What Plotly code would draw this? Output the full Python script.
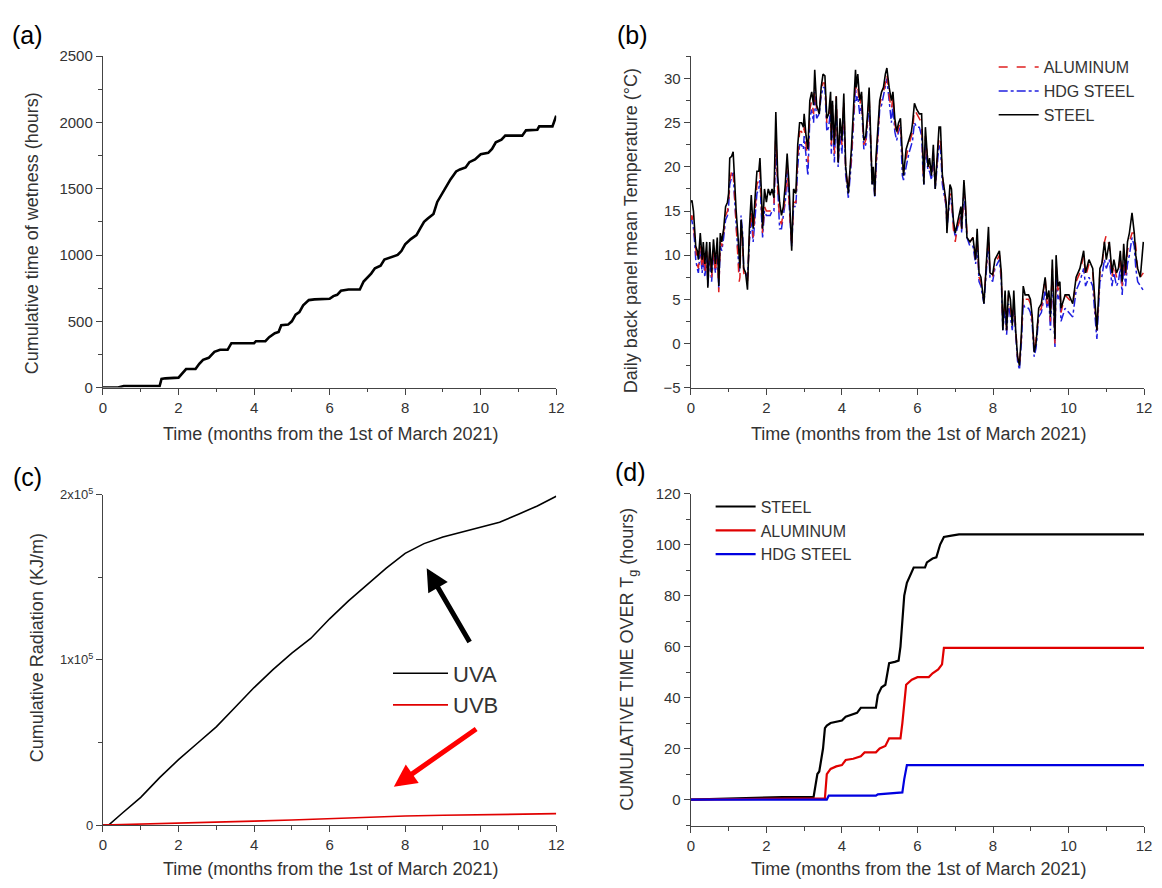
import plotly.graph_objects as go

# ---------------- (a) cumulative time of wetness ----------------
tow_t = [0, 0.4, 0.55, 1.5, 1.55, 1.65, 2.0, 2.1, 2.2, 2.45, 2.55, 2.65, 2.8, 2.95, 3.1, 3.3,
         3.4, 4.0, 4.05, 4.3, 4.4, 4.55, 4.65, 4.72, 4.9, 5.0, 5.1, 5.2, 5.3, 5.45, 5.6, 6.0,
         6.1, 6.2, 6.3, 6.5, 6.8, 6.9, 7.0, 7.1, 7.2, 7.35, 7.45, 7.7, 7.8, 7.9, 8.0, 8.15,
         8.3, 8.4, 8.5, 8.6, 8.75, 8.85, 8.95, 9.1, 9.2, 9.35, 9.45, 9.6, 9.7, 9.85, 10.0,
         10.2, 10.3, 10.4, 10.55, 10.65, 11.1, 11.2, 11.5, 11.55, 11.9, 12.0]
tow_h = [0, 0, 12, 12, 65, 70, 75, 110, 140, 140, 180, 210, 225, 270, 285, 285,
         335, 335, 350, 350, 380, 410, 420, 470, 475, 500, 550, 570, 620, 660, 665, 670,
         690, 700, 730, 740, 740, 800, 830, 860, 900, 920, 965, 990, 1000, 1030, 1080, 1120,
         1150, 1200, 1250, 1275, 1310, 1400, 1450, 1520, 1570, 1630, 1645, 1660, 1700, 1720, 1760,
         1770, 1800, 1850, 1870, 1900, 1900, 1940, 1945, 1970, 1970, 2050]

# ---------------- (b) daily back panel temperature ----------------
temp_t = [0.00, 0.03, 0.07, 0.10, 0.13, 0.17, 0.20, 0.25, 0.30, 0.33, 0.37, 0.42, 0.45, 0.50, 0.55,
          0.60, 0.65, 0.70, 0.74, 0.78, 0.82, 0.87, 0.92, 0.97, 1.00, 1.03, 1.08, 1.12, 1.15, 1.20,
          1.25, 1.28, 1.30, 1.33, 1.37, 1.40, 1.45, 1.50, 1.55, 1.60, 1.65, 1.70, 1.75, 1.80, 1.83,
          1.87, 1.90, 1.95, 2.00, 2.05, 2.10, 2.15, 2.20, 2.25, 2.30, 2.35, 2.40, 2.45, 2.50, 2.55,
          2.60, 2.67, 2.72, 2.78, 2.83, 2.88, 2.93, 2.98, 3.00, 3.05, 3.10, 3.15, 3.20, 3.25, 3.28,
          3.33, 3.40, 3.45, 3.50, 3.55, 3.60, 3.65, 3.70, 3.72, 3.75, 3.80, 3.85, 3.90, 3.95, 4.00,
          4.05, 4.10, 4.17, 4.25, 4.30, 4.36, 4.38, 4.42, 4.47, 4.52, 4.58, 4.63, 4.68, 4.72, 4.75,
          4.80, 4.83, 4.87, 4.90, 4.95, 5.00, 5.05, 5.10, 5.15, 5.19, 5.25, 5.31, 5.35, 5.40, 5.45,
          5.50, 5.55, 5.60, 5.63, 5.70, 5.77, 5.84, 5.87, 5.92, 5.98, 6.05, 6.11, 6.15, 6.17, 6.21,
          6.28, 6.32, 6.37, 6.42, 6.47, 6.57, 6.61, 6.66, 6.71, 6.76, 6.78, 6.86, 6.90, 6.95, 7.00,
          7.05, 7.15, 7.17, 7.23, 7.27, 7.31, 7.39, 7.47, 7.54, 7.58, 7.63, 7.68, 7.76, 7.81, 7.88,
          7.92, 7.99, 8.05, 8.17, 8.22, 8.26, 8.32, 8.36, 8.41, 8.46, 8.51, 8.55, 8.60, 8.65, 8.70,
          8.75, 8.80, 8.85, 8.94, 8.99, 9.04, 9.09, 9.14, 9.21, 9.28, 9.38, 9.43, 9.48, 9.52, 9.57,
          9.60, 9.64, 9.67, 9.72, 9.77, 9.80, 9.91, 10.01, 10.11, 10.20, 10.30, 10.40, 10.45, 10.54, 10.64,
          10.72, 10.75, 10.83, 10.88, 10.95, 11.00, 11.08, 11.15, 11.20, 11.27, 11.32, 11.37, 11.42, 11.46, 11.51,
          11.56, 11.61, 11.68, 11.74, 11.78, 11.83, 11.90, 11.98]
temp_steel = [16.0, 16.2, 15.0, 13.0, 11.0, 10.5, 9.5, 12.5, 9.5, 11.5, 9.0, 11.5, 6.3, 11.5, 8.0,
              11.8, 9.0, 12.0, 6.5, 12.5, 11.5, 13.0, 15.5, 16.0, 17.0, 21.0, 21.2, 21.7, 19.0, 15.0,
              12.0, 9.0, 8.5, 14.0, 12.0, 8.5, 8.0, 6.1, 13.0, 16.8, 13.0, 16.5, 19.5, 19.5, 21.0,
              17.0, 13.0, 17.5, 16.0, 17.5, 16.8, 17.5, 16.5, 26.2, 19.0, 16.0, 14.5, 15.5, 18.0, 21.5,
              18.0, 10.5, 17.5, 17.0, 22.5, 25.0, 25.0, 24.5, 26.0, 23.5, 22.0, 27.5, 28.5, 27.0, 31.0,
              27.0, 26.0, 29.0, 30.5, 30.3, 25.5, 26.0, 28.5, 23.0, 27.5, 22.5, 28.0, 20.5, 25.5, 23.0,
              28.3, 20.0, 17.0, 22.0, 26.0, 31.0, 29.0, 30.5, 27.5, 28.5, 23.0, 23.5, 26.0, 29.0, 25.0,
              18.0, 20.0, 16.7, 21.0, 25.0, 27.5, 28.5, 29.0, 30.5, 31.2, 29.0, 27.5, 28.5, 25.5, 24.0,
              25.0, 25.5, 21.0, 19.0, 22.0, 23.0, 24.0, 25.0, 27.2, 26.5, 26.0, 26.0, 20.0, 18.0, 24.5,
              20.0, 21.0, 19.0, 22.5, 17.5, 24.5, 24.5, 19.0, 17.5, 16.0, 12.5, 18.0, 17.5, 14.0, 12.5,
              13.5, 15.5, 13.0, 18.5, 16.0, 12.0, 11.5, 12.0, 9.5, 13.0, 8.0, 7.5, 4.5, 8.5, 13.2,
              8.0, 7.8, 9.5, 10.5, 8.0, 1.5, 6.0, 1.5, 6.0, 5.0, 2.0, 6.0, 1.5, -1.5, -2.5,
              1.0, 6.5, 5.5, 5.5, 5.0, 3.0, -1.0, 0.0, 4.0, 4.5, 7.5, 5.0, 6.0, 3.0, 9.5,
              5.5, 0.5, 10.0, 6.5, 7.0, 4.0, 5.5, 5.5, 4.5, 7.5, 8.5, 10.5, 8.0, 9.5, 8.5,
              3.0, 1.5, 8.5, 9.0, 11.5, 9.5, 11.5, 8.0, 9.5, 8.0, 8.5, 10.5, 7.0, 11.3, 8.0,
              11.5, 12.5, 14.8, 12.5, 10.0, 8.5, 7.5, 11.5]
temp_al = [14.0, 14.5, 13.5, 12.0, 10.0, 9.0, 8.5, 11.0, 8.5, 10.5, 8.0, 10.5, 7.0, 10.5, 7.5,
           10.5, 8.0, 10.5, 5.8, 11.5, 11.0, 12.5, 14.5, 15.0, 16.0, 18.5, 19.5, 19.8, 17.5, 13.5,
           9.0, 7.0, 7.5, 13.0, 11.0, 8.0, 7.5, 7.0, 12.0, 15.0, 12.0, 15.0, 18.0, 18.5, 19.5,
           15.5, 12.5, 15.5, 15.0, 15.0, 15.0, 15.5, 15.5, 24.0, 17.5, 14.0, 13.5, 15.0, 16.5, 20.0,
           16.5, 11.0, 16.0, 16.0, 21.0, 24.0, 24.0, 23.5, 24.5, 22.0, 20.5, 26.5, 27.5, 26.0, 29.5,
           26.5, 26.5, 28.5, 29.5, 29.5, 25.0, 25.5, 27.5, 22.5, 27.0, 21.5, 28.0, 20.5, 25.0, 22.5,
           27.5, 19.5, 17.5, 21.0, 25.5, 30.0, 28.5, 29.0, 27.0, 28.0, 22.5, 23.0, 25.5, 28.0, 24.5,
           18.5, 19.5, 17.0, 20.0, 24.0, 27.0, 28.0, 28.5, 29.5, 30.5, 28.0, 26.5, 28.0, 25.0, 23.5,
           24.5, 25.0, 20.5, 19.5, 21.0, 22.5, 23.5, 24.0, 26.5, 26.0, 25.5, 25.0, 19.5, 18.5, 23.5,
           20.5, 20.0, 19.5, 21.5, 18.0, 23.5, 23.0, 19.0, 17.0, 15.5, 13.5, 17.0, 16.5, 13.0, 11.5,
           13.0, 14.5, 13.0, 17.0, 15.5, 12.5, 11.5, 12.0, 9.5, 12.0, 7.5, 7.0, 5.0, 8.0, 12.0,
           8.0, 7.5, 9.0, 10.0, 7.5, 2.0, 5.0, 1.5, 5.5, 4.0, 2.5, 5.0, 1.5, -1.5, -2.5,
           0.5, 5.5, 5.0, 5.0, 4.5, 2.5, -0.5, 0.5, 3.5, 4.0, 7.5, 4.5, 5.5, 2.5, 8.5,
           5.0, 0.0, 9.0, 6.0, 6.5, 3.5, 5.5, 5.0, 4.5, 7.0, 8.0, 10.0, 7.5, 9.0, 8.0,
           3.0, 1.5, 8.0, 8.5, 11.5, 12.3, 11.0, 7.5, 9.0, 7.5, 8.0, 10.0, 6.5, 10.5, 7.5,
           10.5, 11.5, 12.5, 12.5, 11.0, 8.0, 7.5, 8.0]
temp_hdg = [14.5, 14.0, 13.0, 11.5, 9.5, 8.5, 8.0, 10.5, 8.0, 10.0, 7.5, 10.0, 6.5, 10.0, 7.0,
            10.0, 8.0, 10.5, 6.2, 11.0, 10.5, 12.0, 14.0, 14.5, 15.5, 18.0, 19.0, 19.5, 17.0, 14.0,
            10.0, 8.0, 9.0, 14.5, 12.5, 8.5, 8.0, 7.5, 11.5, 14.0, 11.5, 14.0, 17.0, 17.5, 18.5,
            14.5, 12.0, 15.0, 14.5, 14.5, 14.5, 15.0, 15.0, 22.5, 17.0, 13.0, 13.0, 14.5, 16.0, 19.5,
            16.0, 11.0, 15.5, 15.5, 20.0, 22.5, 22.5, 22.0, 23.5, 21.0, 19.0, 25.5, 26.5, 25.0, 28.5,
            25.5, 26.0, 28.0, 29.0, 29.0, 24.0, 24.5, 26.5, 21.5, 26.0, 20.5, 27.0, 20.0, 24.0, 21.5,
            26.5, 19.0, 16.5, 20.5, 24.5, 29.0, 27.5, 28.0, 26.0, 27.0, 22.0, 22.5, 25.0, 27.5, 23.5,
            18.0, 19.0, 16.5, 19.5, 23.0, 26.5, 27.0, 28.0, 29.0, 30.0, 27.5, 25.0, 27.0, 24.0, 23.0,
            24.0, 24.5, 19.0, 18.5, 20.0, 21.5, 22.5, 23.0, 25.0, 24.5, 24.5, 23.5, 19.0, 18.0, 22.5,
            19.5, 19.5, 18.5, 21.0, 17.5, 22.5, 22.0, 18.0, 16.5, 15.5, 13.0, 16.5, 16.0, 13.5, 12.0,
            13.0, 14.5, 12.5, 17.5, 15.0, 12.0, 11.0, 11.0, 9.0, 11.5, 7.0, 6.5, 4.5, 7.5, 11.5,
            7.5, 7.0, 8.5, 9.5, 7.0, 1.5, 4.0, 1.0, 4.5, 3.0, 1.5, 4.0, 0.5, -2.0, -3.0,
            0.0, 4.5, 4.0, 4.0, 3.5, 2.0, -1.5, -0.5, 3.0, 3.5, 6.0, 4.0, 5.0, 1.5, 7.5,
            4.0, -0.5, 8.0, 5.0, 5.5, 2.5, 4.0, 3.5, 3.0, 6.0, 7.0, 8.5, 6.5, 7.5, 6.5,
            2.0, 0.5, 7.0, 7.5, 9.5, 8.5, 9.5, 6.5, 8.0, 6.5, 7.0, 8.5, 5.5, 9.0, 6.5,
            9.0, 10.0, 12.0, 11.0, 8.5, 7.0, 6.5, 6.0]

# ---------------- (c) cumulative radiation ----------------
uva_t = [0, 0.15, 0.5, 1.0, 1.5, 2.0, 2.5, 3.0, 3.5, 4.0, 4.5, 5.0, 5.5, 6.0, 6.5, 7.0, 7.5,
         8.0, 8.5, 9.0, 9.5, 10.0, 10.5, 11.0, 11.5, 12.0]
uva = [0, 0, 7000, 16800, 28700, 39600, 49500, 59400, 71300, 83200, 94000, 104000, 112900,
       124800, 135600, 145500, 155400, 164400, 170300, 174300, 177200, 180200, 183200, 188100,
       193100, 199000]
uvb_t = [0, 1, 2, 3, 4, 5, 6, 7, 8, 9, 10, 11, 12]
uvb = [0, 500, 1000, 1700, 2400, 3100, 3900, 4800, 5500, 5900, 6200, 6500, 6900]

# ---------------- (d) cumulative time over Tg ----------------
tg_steel_t = [0, 2.42, 3.25, 3.3, 3.35, 3.4, 3.45, 3.5, 3.55, 3.6, 3.7, 3.9, 4.0, 4.1, 4.2, 4.4,
              4.5, 4.9, 4.95, 5.05, 5.15, 5.25, 5.4, 5.5, 5.55, 5.6, 5.65, 5.72, 5.8, 5.9, 6.2,
              6.25, 6.4, 6.5, 6.6, 6.7, 6.9, 7.1, 12.0]
tg_steel = [0, 1, 1, 5, 10, 11, 15, 20, 28, 29, 30, 30.5, 31, 32.5, 33, 34,
            36, 36, 41, 44, 45, 53.5, 54, 54.5, 60, 70, 80, 85, 88, 91, 91,
            93, 94.5, 95, 100, 103, 103.5, 104, 104]
tg_al_t = [0, 3.4, 3.55, 3.6, 3.7, 3.85, 4.0, 4.1, 4.3, 4.5, 4.6, 4.9, 5.0, 5.15, 5.25, 5.55,
           5.6, 5.7, 5.85, 6.0, 6.3, 6.4, 6.55, 6.65, 6.7, 12.0]
tg_al = [0, 0.5, 0.5, 10, 12, 13, 13.5, 15.5, 16, 17, 18.5, 18.5, 20, 21, 24, 24,
         30, 45, 47, 48, 48, 49.5, 51, 53, 59.5, 59.5]
tg_hdg_t = [0, 3.6, 3.65, 4.9, 4.95, 5.3, 5.6, 5.65, 5.72, 12.0]
tg_hdg = [0, 0, 1.5, 1.5, 2, 2.5, 2.8, 8, 13.5, 13.5]

# ---------------- figure ----------------
W, H = 1162, 888
FONT = "Liberation Sans, Arial, sans-serif"
TXT = "#333333"


def px(x):
    return x / W


def py(y):
    return 1 - y / H


fig = go.Figure()

# (a)
fig.add_trace(go.Scatter(x=tow_t, y=tow_h, mode="lines", line=dict(color="black", width=2.6),
                         showlegend=False, xaxis="x", yaxis="y"))
# (b)
fig.add_trace(go.Scatter(x=temp_t, y=temp_hdg, mode="lines", name="HDG STEEL",
                         line=dict(color="#2020e0", width=1.5, dash="dashdot"),
                         legend="legend", legendrank=2, xaxis="x2", yaxis="y2"))
fig.add_trace(go.Scatter(x=temp_t, y=temp_al, mode="lines", name="ALUMINUM",
                         line=dict(color="#e02020", width=1.5, dash="dash"),
                         legend="legend", legendrank=1, xaxis="x2", yaxis="y2"))
fig.add_trace(go.Scatter(x=temp_t, y=temp_steel, mode="lines", name="STEEL",
                         line=dict(color="black", width=1.6),
                         legend="legend", legendrank=3, xaxis="x2", yaxis="y2"))
# (c)
fig.add_trace(go.Scatter(x=uva_t, y=uva, mode="lines", name="UVA",
                         line=dict(color="black", width=1.6),
                         legend="legend2", xaxis="x3", yaxis="y3"))
fig.add_trace(go.Scatter(x=uvb_t, y=uvb, mode="lines", name="UVB",
                         line=dict(color="#e00000", width=1.6),
                         legend="legend2", xaxis="x3", yaxis="y3"))
# (d)
fig.add_trace(go.Scatter(x=tg_steel_t, y=tg_steel, mode="lines", name="STEEL",
                         line=dict(color="black", width=2.2),
                         legend="legend3", xaxis="x4", yaxis="y4"))
fig.add_trace(go.Scatter(x=tg_al_t, y=tg_al, mode="lines", name="ALUMINUM",
                         line=dict(color="#e00000", width=2.2),
                         legend="legend3", xaxis="x4", yaxis="y4"))
fig.add_trace(go.Scatter(x=tg_hdg_t, y=tg_hdg, mode="lines", name="HDG STEEL",
                         line=dict(color="#0000e0", width=2.2),
                         legend="legend3", xaxis="x4", yaxis="y4"))


def axis(domain, anchor, rng, dtick, minor_dtick, **kw):
    d = dict(domain=domain, anchor=anchor, range=rng, dtick=dtick, tick0=0,
             showline=True, linecolor="#444444", linewidth=1.3, mirror=False,
             ticks="outside", ticklen=6, tickwidth=1.3, tickcolor="#444444",
             showgrid=False, zeroline=False, fixedrange=True,
             tickfont=dict(family=FONT, size=15, color=TXT),
             minor=dict(ticks="outside", ticklen=3.5, tickwidth=1.3, tickcolor="#444444",
                        dtick=minor_dtick, tick0=0, showgrid=False))
    d.update(kw)
    return d


xl = [px(100), px(558)]
xr = [px(694), px(1152)]

fig.update_layout(
    width=W, height=H,
    margin=dict(l=0, r=0, t=0, b=0),
    paper_bgcolor="white", plot_bgcolor="white",
    font=dict(family=FONT, color=TXT),
    xaxis=axis(xl, "y", [0, 12], 2, 1),
    yaxis=axis([py(386), py(48)], "x", [0, 2500], 500, 250),
    xaxis2=axis(xr, "y2", [0, 12], 2, 1),
    yaxis2=axis([py(386), py(48)], "x2", [-5, 32.55], 5, 2.5),
    xaxis3=axis(xl, "y3", [0, 12], 2, 1),
    yaxis3=axis([py(832), py(495)], "x3", [0, 200000], None, 50000,
                tickvals=[0, 100000, 200000],
                ticktext=["0", "1x10<sup>5</sup>", "2x10<sup>5</sup>"],
                tickfont=dict(family=FONT, size=13, color=TXT)),
    xaxis4=axis(xr, "y4", [0, 12], 2, 1),
    yaxis4=axis([py(833), py(494)], "x4", [-10.4, 120], 20, 10),
    legend=dict(x=px(1000), y=py(42), xanchor="left", yanchor="top",
                bgcolor="rgba(0,0,0,0)", font=dict(family=FONT, size=16, color=TXT),
                tracegroupgap=0, itemwidth=40),
    legend2=dict(x=px(388), y=py(656), xanchor="left", yanchor="top",
                 bgcolor="rgba(0,0,0,0)", font=dict(family=FONT, size=22, color=TXT),
                 tracegroupgap=0, itemwidth=55),
    legend3=dict(x=px(714), y=py(490), xanchor="left", yanchor="top",
                 bgcolor="rgba(0,0,0,0)", font=dict(family=FONT, size=16, color=TXT),
                 tracegroupgap=0, itemwidth=40),
)

ann = []
# panel labels
for lab, x, y in [("(a)", 24, 26), ("(b)", 635, 26), ("(c)", 24, 477), ("(d)", 633, 472)]:
    ann.append(dict(text=lab, x=px(x), y=py(y), xref="paper", yref="paper",
                    xanchor="center", yanchor="middle", showarrow=False,
                    font=dict(family=FONT, size=25, color="black")))
# x-axis titles
xt = "Time (months from the 1st of March 2021)"
for x, y in [(330, 433), (924, 433), (330, 877), (924, 877)]:
    ann.append(dict(text=xt, x=px(x), y=py(y), xref="paper", yref="paper", showarrow=False,
                    xanchor="center", yanchor="middle",
                    font=dict(family=FONT, size=18, color=TXT)))
# y-axis titles
for txt, x, y in [("Cumulative time of wetness (hours)", 28, 229),
                  ("Daily back panel mean Temperature (°C)", 633, 226),
                  ("Cumulative Radiation (KJ/m)", 33, 651),
                  ("CUMULATIVE TIME OVER T<sub>g</sub> (hours)", 631, 663)]:
    ann.append(dict(text=txt, x=px(x), y=py(y), xref="paper", yref="paper", showarrow=False,
                    xanchor="center", yanchor="middle", textangle=-90,
                    font=dict(family=FONT, size=18, color=TXT)))
# arrows in (c)
ann.append(dict(text="", x=8.57, y=155400, ax=9.73, ay=109900, xref="x3", yref="y3",
                axref="x3", ayref="y3", showarrow=True, arrowhead=2, arrowsize=0.9,
                arrowwidth=5, arrowcolor="black"))
ann.append(dict(text="", x=7.70, y=23200, ax=9.92, ay=58800, xref="x3", yref="y3",
                axref="x3", ayref="y3", showarrow=True, arrowhead=2, arrowsize=0.9,
                arrowwidth=5, arrowcolor="#ff0000"))
fig.update_layout(annotations=ann)

fig.write_html("out.html")
